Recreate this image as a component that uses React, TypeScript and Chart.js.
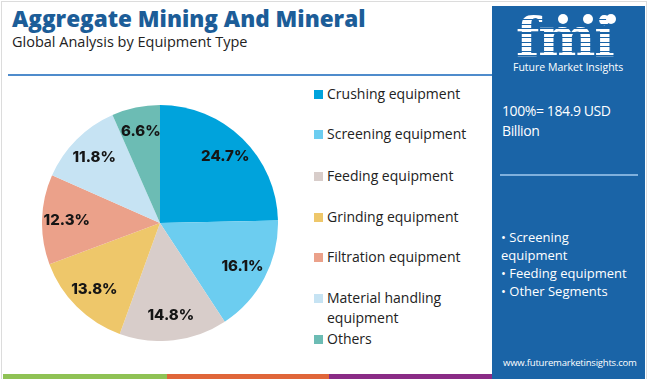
import React, { useEffect, useRef } from "react";
import { Chart, registerables } from "chart.js";

Chart.register(...registerables);

const categories = [
  "Crushing equipment",
  "Screening equipment",
  "Feeding equipment",
  "Grinding equipment",
  "Filtration equipment",
  "Material handling equipment",
  "Others",
];
const legendLines = [
  ["Crushing equipment"],
  ["Screening equipment"],
  ["Feeding equipment"],
  ["Grinding equipment"],
  ["Filtration equipment"],
  ["Material handling", "equipment"],
  ["Others"],
];
const shares = [24.7, 16.1, 14.8, 13.8, 12.3, 11.8, 6.6];
const colors = ["#00a3dc", "#6ccdf0", "#d8cdca", "#eec76a", "#eba18a", "#c6e3f3", "#6cbcb4"];
const totalText = "100%= 184.9 USD Billion";
const bulletLines = ["• Screening", "equipment", "• Feeding equipment", "• Other Segments"];

const FONT = "'Open Sans', 'Noto Sans', sans-serif";

const sliceLabels = {
  id: "sliceLabels",
  afterDatasetsDraw(chart: any) {
    const ctx = chart.ctx;
    const meta = chart.getDatasetMeta(0);
    ctx.save();
    ctx.font = `800 15px Inter, ${FONT}`;
    ctx.fillStyle = "#151515";
    ctx.textAlign = "center";
    ctx.textBaseline = "middle";
    meta.data.forEach((arc: any, i: number) => {
      const p = arc.getProps(["x", "y", "startAngle", "endAngle", "outerRadius"], true);
      const mid = (p.startAngle + p.endAngle) / 2;
      const r = p.outerRadius * 0.79;
      ctx.fillText(shares[i].toFixed(1) + "%", p.x + Math.cos(mid) * r, p.y + Math.sin(mid) * r);
    });
    ctx.restore();
  },
};

function PieChart() {
  const ref = useRef<HTMLCanvasElement>(null);
  useEffect(() => {
    if (!ref.current) return;
    const chart = new Chart(ref.current, {
      type: "pie",
      data: {
        labels: categories,
        datasets: [{ data: shares, backgroundColor: colors, borderWidth: 0 }],
      },
      options: {
        animation: false,
        responsive: true,
        maintainAspectRatio: false,
        layout: { padding: 0 },
        plugins: { legend: { display: false }, tooltip: { enabled: false } },
      },
      plugins: [sliceLabels],
    });
    return () => chart.destroy();
  }, []);
  return <canvas ref={ref} />;
}

export default function App() {
  useEffect(() => {
    document.body.style.margin = "0";
  }, []);
  const legendTops = [94, 134, 176, 217, 257, 298, 339];
  return (
    <div style={{ position: "fixed", left: 0, top: 0, width: 650, height: 379, background: "#fff", overflow: "hidden", fontFamily: FONT }}>
      {/* outer border */}
      <div style={{ position: "absolute", left: 1, top: 1, width: 646, height: 380, border: "1px solid #dcdcdc", boxSizing: "border-box" }} />
      {/* title */}
      <div style={{ position: "absolute", left: 12, top: 3, fontSize: 22.5, fontWeight: 800, color: "#1c5d98", whiteSpace: "nowrap" }}>
        Aggregate Mining And Mineral
      </div>
      <div style={{ position: "absolute", left: 12, top: 32, fontSize: 14.5, color: "#222", whiteSpace: "nowrap" }}>
        Global Analysis by Equipment Type
      </div>
      {/* header rule */}
      <div style={{ position: "absolute", left: 8, top: 74, width: 484, height: 2, background: "#4f8ccc" }} />
      {/* pie */}
      <div style={{ position: "absolute", left: 42, top: 105, width: 236, height: 236 }}>
        <PieChart />
      </div>
      {/* legend */}
      {legendLines.map((lines, i) => (
        <div key={i} style={{ position: "absolute", left: 314, top: legendTops[i] - 10, whiteSpace: "nowrap" }}>
          <div style={{ position: "absolute", left: 0, top: 6, width: 9, height: 9, background: colors[i] }} />
          <div style={{ position: "absolute", left: 13, top: 0, fontSize: 14, lineHeight: "20px", color: "#222" }}>
            {lines.map((l, j) => (
              <div key={j}>{l}</div>
            ))}
          </div>
        </div>
      ))}
      {/* right panel */}
      <div style={{ position: "absolute", left: 492, top: 6, width: 153, height: 373, background: "#1a64a7" }}>
        {/* logo */}
        <div style={{ position: "absolute", left: 0, top: 0, width: 153, height: 70 }}>
          <div style={{ position: "absolute", left: 24, top: -4, fontSize: 54, fontWeight: 700, fontFamily: "'DejaVu Serif', serif", color: "#fff", letterSpacing: -1, lineHeight: "70px" }}>
            fmi
          </div>
          <div style={{ position: "absolute", left: 18, top: 10, width: 120, height: 42, background: "repeating-linear-gradient(to bottom, transparent 0px, transparent 3px, #1a64a7 3px, #1a64a7 4.5px)" }} />
          <div style={{ position: "absolute", left: 66, top: 8, width: 10, height: 10, borderRadius: 5, background: "#fff" }} />
          <div style={{ position: "absolute", left: 91, top: 8, width: 10, height: 10, borderRadius: 5, background: "#fff" }} />
          <div style={{ position: "absolute", left: 114, top: 8, width: 10, height: 10, borderRadius: 5, background: "#fff" }} />
          <div style={{ position: "absolute", left: 21, top: 54, fontSize: 10.5, color: "#fff", whiteSpace: "nowrap" }}>Future Market Insights</div>
        </div>
        <div style={{ position: "absolute", left: 10, top: 95, width: 140, fontSize: 14, letterSpacing: -0.4, lineHeight: "19.5px", color: "#fff" }}>{totalText}</div>
        <div style={{ position: "absolute", left: 8, top: 168, width: 138, height: 2, background: "#7fb0dd" }} />
        <div style={{ position: "absolute", left: 9, top: 222, width: 145, fontSize: 13, lineHeight: "18px", color: "#fff", whiteSpace: "nowrap" }}>
          {bulletLines.map((b, i) => (
            <div key={i}>{b}</div>
          ))}
        </div>
        <div style={{ position: "absolute", left: 11, top: 350, fontSize: 9.5, color: "#fff", whiteSpace: "nowrap", letterSpacing: -0.2 }}>
          www.futuremarketinsights.com
        </div>
      </div>
      {/* bottom stripes */}
      <div style={{ position: "absolute", left: 3, top: 374, width: 164, height: 5, background: "#8fc255" }} />
      <div style={{ position: "absolute", left: 167, top: 374, width: 162, height: 5, background: "#e0663a" }} />
      <div style={{ position: "absolute", left: 329, top: 374, width: 163, height: 5, background: "#8a2c86" }} />
    </div>
  );
}
